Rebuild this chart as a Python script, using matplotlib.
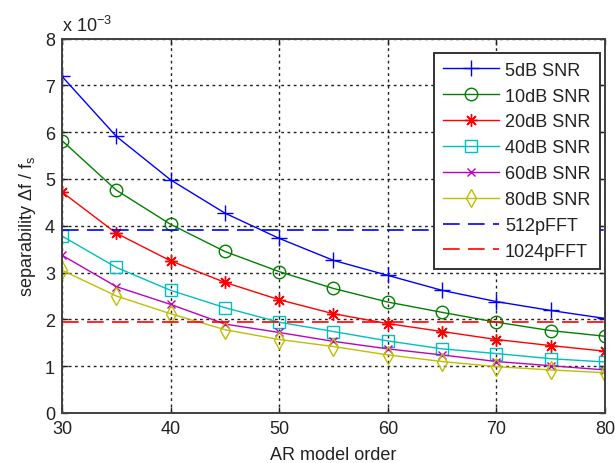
import matplotlib
matplotlib.use("Agg")
import matplotlib.pyplot as plt
from matplotlib.ticker import FuncFormatter

plt.rcParams['font.family'] = ['Liberation Sans', 'DejaVu Sans']
plt.rcParams['mathtext.fontset'] = 'custom'
plt.rcParams['mathtext.rm'] = 'Liberation Sans'
plt.rcParams['mathtext.it'] = 'Liberation Sans:italic'

orders = [30, 35, 40, 45, 50, 55, 60, 65, 70, 75, 80]
snr5 = [7.19, 5.91, 4.98, 4.27, 3.73, 3.26, 2.94, 2.62, 2.38, 2.19, 2.02]
snr10 = [5.82, 4.76, 4.03, 3.45, 3.02, 2.66, 2.37, 2.15, 1.94, 1.76, 1.64]
snr20 = [4.72, 3.84, 3.25, 2.79, 2.42, 2.12, 1.91, 1.74, 1.57, 1.44, 1.32]
snr40 = [3.78, 3.11, 2.62, 2.25, 1.94, 1.74, 1.54, 1.37, 1.27, 1.16, 1.09]
snr60 = [3.37, 2.70, 2.32, 1.90, 1.72, 1.53, 1.37, 1.24, 1.10, 1.01, 0.92]
snr80 = [3.05, 2.50, 2.12, 1.78, 1.57, 1.42, 1.24, 1.10, 0.99, 0.92, 0.86]
fft512 = 2 / 512
fft1024 = 2 / 1024

labels = ['5dB SNR', '10dB SNR', '20dB SNR', '40dB SNR', '60dB SNR', '80dB SNR',
          '512pFFT', '1024pFFT']
xticks = [30, 40, 50, 60, 70, 80]
yticks = [0, 1, 2, 3, 4, 5, 6, 7, 8]

series = [snr5, snr10, snr20, snr40, snr60, snr80]
colors = ['#0000FF', '#008000', '#FF0000', '#00BFBF', '#BF00BF', '#BFBF00']
markers = ['+', 'o', (8, 2, 0), 's', 'x', 'd']
msizes = [11, 9, 9, 9, 6, 9]

fs = 13
fig = plt.figure(figsize=(6.15, 4.64), dpi=100)
ax = fig.add_axes([62/615, 1 - 414/464, (605-62)/615, (414-39.5)/464])

for s, c, m, ms, lab in zip(series, colors, markers, msizes, labels[:6]):
    ax.plot(orders, [v * 1e-3 for v in s], color=c, marker=m, ms=ms,
            mfc='none', mec=c, mew=1.0, lw=1.0, label=lab)

ax.axhline(fft512, color='#0000FF', lw=1.2, dashes=(10, 5), label=labels[6])
ax.axhline(fft1024, color='#FF0000', lw=1.2, dashes=(10, 5), label=labels[7])

ax.set_xlim(30, 80)
ax.set_ylim(0, 8e-3)
ax.set_xticks(xticks)
ax.set_yticks([t * 1e-3 for t in yticks])
ax.yaxis.set_major_formatter(FuncFormatter(lambda v, p: f"{v*1e3:.0f}"))
ax.grid(True, color='#222222', lw=1.0, dashes=(2, 2.5))
ax.tick_params(direction='in', top=True, right=True, labelsize=fs,
               colors='#222222', length=4, width=1)
ax.tick_params(axis='x', pad=5)
ax.tick_params(axis='y', pad=5)
for sp in ax.spines.values():
    sp.set_color('#404040')
    sp.set_linewidth(1.4)

ax.set_xlabel('AR model order', fontsize=fs, color='#222222', labelpad=6.5)
ax.set_ylabel(r'separability $\Delta$f / f$_\mathrm{s}$', fontsize=fs, color='#222222', labelpad=5)
ax.text(0.0, 1.01, r'x 10$^{-3}$', transform=ax.transAxes, fontsize=fs,
        color='#222222', ha='left', va='bottom')

leg = ax.legend(loc='upper right', bbox_to_anchor=(0.99, 0.962), borderaxespad=0,
                fontsize=fs, frameon=True, fancybox=False,
                handlelength=3.1, labelspacing=0.49,
                handletextpad=0.33, borderpad=0.5)
leg.get_frame().set_edgecolor('#333333')
leg.get_frame().set_linewidth(1.4)
leg.get_frame().set_alpha(1)
for t in leg.get_texts():
    t.set_color('#222222')

fig.savefig('out.png', dpi=100)
